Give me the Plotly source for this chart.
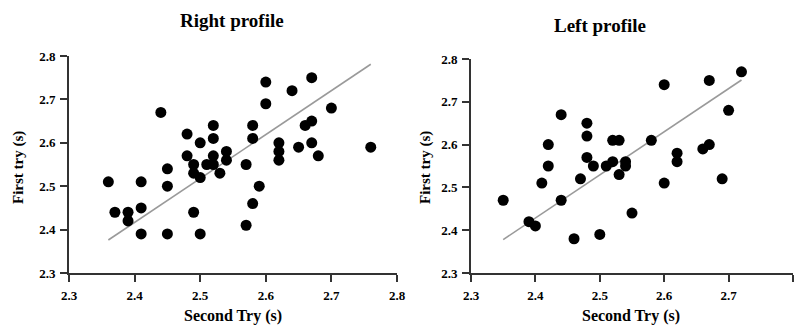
import plotly.graph_objects as go

# Right profile data (Second Try, First try)
right_x = [2.36, 2.37, 2.39, 2.39, 2.41, 2.41, 2.41, 2.44, 2.45, 2.45, 2.45, 2.48, 2.48,
           2.49, 2.49, 2.49, 2.50, 2.50, 2.50, 2.51, 2.52, 2.52, 2.52, 2.52, 2.53, 2.54,
           2.54, 2.57, 2.57, 2.58, 2.58, 2.58, 2.59, 2.60, 2.60, 2.62, 2.62, 2.62, 2.64,
           2.65, 2.66, 2.67, 2.67, 2.67, 2.68, 2.70, 2.76]
right_y = [2.51, 2.44, 2.44, 2.42, 2.51, 2.45, 2.39, 2.67, 2.54, 2.50, 2.39, 2.62, 2.57,
           2.55, 2.53, 2.44, 2.60, 2.52, 2.39, 2.55, 2.64, 2.61, 2.57, 2.55, 2.53, 2.58,
           2.56, 2.55, 2.41, 2.64, 2.61, 2.46, 2.50, 2.74, 2.69, 2.60, 2.58, 2.56, 2.72,
           2.59, 2.64, 2.65, 2.75, 2.60, 2.57, 2.68, 2.59]
right_fit_x = [2.36, 2.76]
right_fit_y = [2.376, 2.781]

# Left profile data
left_x = [2.35, 2.39, 2.40, 2.41, 2.42, 2.42, 2.44, 2.44, 2.46, 2.47, 2.48, 2.48, 2.48,
          2.49, 2.50, 2.51, 2.52, 2.52, 2.53, 2.53, 2.54, 2.54, 2.55, 2.58, 2.60, 2.60,
          2.62, 2.62, 2.66, 2.67, 2.67, 2.69, 2.70, 2.72]
left_y = [2.47, 2.42, 2.41, 2.51, 2.60, 2.55, 2.67, 2.47, 2.38, 2.52, 2.65, 2.62, 2.57,
          2.55, 2.39, 2.55, 2.61, 2.56, 2.61, 2.53, 2.56, 2.55, 2.44, 2.61, 2.74, 2.51,
          2.58, 2.56, 2.59, 2.60, 2.75, 2.52, 2.68, 2.77]
left_fit_x = [2.35, 2.72]
left_fit_y = [2.378, 2.751]

tick_vals = [2.3, 2.4, 2.5, 2.6, 2.7, 2.8]
tick_text = ["2.3", "2.4", "2.5", "2.6", "2.7", "2.8"]

W, H = 794, 329
FONT = "Liberation Serif"

fig = go.Figure()
marker = dict(color="black", size=11, line=dict(width=0))
linestyle = dict(color="#9a9a9a", width=1.6)

fig.add_trace(go.Scatter(x=right_fit_x, y=right_fit_y, mode="lines", line=linestyle,
                         xaxis="x", yaxis="y", showlegend=False, hoverinfo="skip"))
fig.add_trace(go.Scatter(x=right_x, y=right_y, mode="markers", marker=marker,
                         xaxis="x", yaxis="y", showlegend=False))
fig.add_trace(go.Scatter(x=left_fit_x, y=left_fit_y, mode="lines", line=linestyle,
                         xaxis="x2", yaxis="y2", showlegend=False, hoverinfo="skip"))
fig.add_trace(go.Scatter(x=left_x, y=left_y, mode="markers", marker=marker,
                         xaxis="x2", yaxis="y2", showlegend=False))

axis_common = dict(range=[2.3, 2.8], tickvals=tick_vals,
                   ticktext=["<b>" + t + "</b>" for t in tick_text],
                   showgrid=False, zeroline=False, showline=True, linecolor="#333333",
                   linewidth=1.6, ticks="outside", ticklen=7, tickwidth=1.6,
                   tickcolor="#333333", automargin=False,
                   tickfont=dict(family=FONT, size=13, color="black"))

fig.update_layout(
    width=W, height=H,
    margin=dict(l=0, r=0, t=0, b=0),
    paper_bgcolor="white", plot_bgcolor="white",
    xaxis=dict(domain=[69 / W, 397 / W], anchor="y", ticklabelstandoff=3, **axis_common),
    yaxis=dict(domain=[1 - 273 / H, 1 - 56 / H], anchor="x", ticklabelstandoff=2, **axis_common),
    xaxis2=dict(domain=[471 / W, 793 / W], anchor="y2", ticklabelstandoff=3, **axis_common),
    yaxis2=dict(domain=[1 - 273 / H, 1 - 59 / H], anchor="x2", ticklabelstandoff=2, **axis_common),
)

bold = lambda s: "<b>" + s + "</b>"
ann = [
    dict(text=bold("Right profile"), x=232 / W, y=1 - 20 / H, size=19, angle=0),
    dict(text=bold("Left profile"), x=600 / W, y=1 - 26 / H, size=19, angle=0),
    dict(text=bold("Second Try (s)"), x=233 / W, y=1 - 316 / H, size=16, angle=0),
    dict(text=bold("Second Try (s)"), x=631 / W, y=1 - 316 / H, size=16, angle=0),
    dict(text=bold("First try (s)"), x=18 / W, y=1 - 168 / H, size=15, angle=-90),
    dict(text=bold("First try (s)"), x=425 / W, y=1 - 168 / H, size=15, angle=-90),
]
for a in ann:
    fig.add_annotation(text=a["text"], x=a["x"], y=a["y"], xref="paper", yref="paper",
                       showarrow=False, textangle=a["angle"], xanchor="center",
                       yanchor="middle",
                       font=dict(family=FONT, size=a["size"], color="black"))

fig.write_html("out.html", config={"displayModeBar": False},
               post_script="document.body.style.margin='0';")
